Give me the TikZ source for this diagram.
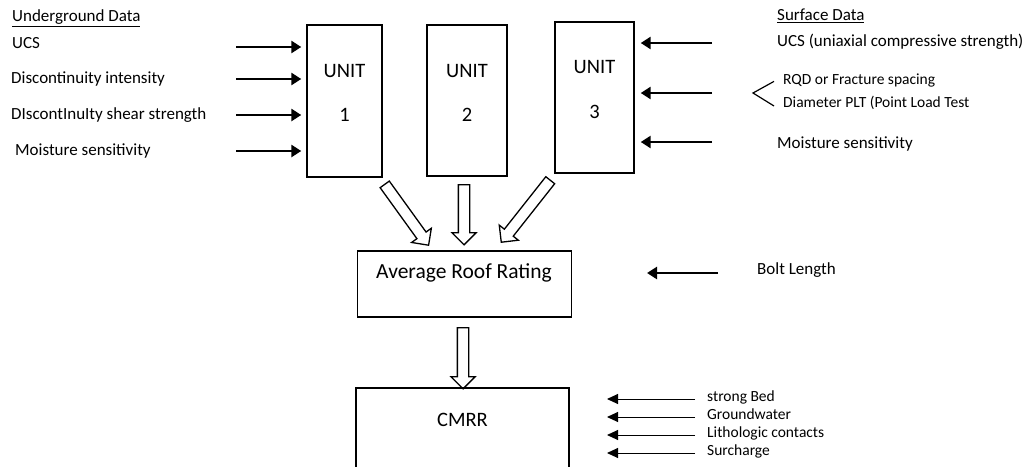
\documentclass[tikz,border=0pt]{standalone}
\usepackage{fontspec}
\setmainfont{Carlito}
\usetikzlibrary{arrows.meta,positioning,shapes.arrows}
\tikzset{
  unitbox/.style={draw, line width=1.4pt, inner sep=0pt},
  ratebox/.style={draw, line width=1.4pt, inner sep=0pt, minimum width=214pt},
  bigtext/.style={inner sep=0pt, font=\fontsize{20.5}{24}\selectfont},
  lbl/.style={anchor=mid west, inner sep=0pt, font=\fontsize{17}{20}\selectfont},
  smalllbl/.style={lbl, font=\fontsize{15.5}{18}\selectfont},
  thickarrow/.style={line width=2.6pt, -{Triangle[length=10pt, width=12pt]}},
  thinarrow/.style={line width=1pt, -{Triangle[length=11pt, width=10pt]}},
  hollow/.style={single arrow, draw, line width=1.3pt, inner sep=5pt,
    minimum width=0pt, single arrow head extend=6.5pt},
}

\begin{document}
\begin{tikzpicture}[x=1pt, y=-1pt]
  \useasboundingbox (0,0) rectangle (1032,466);

  % the three units
  \node[unitbox, minimum width=75pt, minimum height=152pt] (u1) at (344.5,101) {};
  \node[unitbox, minimum width=80pt, minimum height=151pt] (u2) at (467,100.5) {};
  \node[unitbox, minimum width=79pt, minimum height=151pt] (u3) at (594.5,97.5) {};
  \node[bigtext] at (344.5,71) {UNIT};
  \node[bigtext] at (344.5,115) {1};
  \node[bigtext] at (467,71) {UNIT};
  \node[bigtext] at (467,115) {2};
  \node[bigtext] at (594.5,67) {UNIT};
  \node[bigtext] at (594.5,112) {3};

  % ratings
  \node[ratebox, minimum height=66pt] (arr) at (464.5,284) {};
  \node[bigtext, font=\fontsize{21.5}{25}\selectfont] (arrtext) at (464,273) {Average Roof Rating};
  \node[ratebox, minimum width=213pt, minimum height=100pt] (cmrr) at (462.5,438) {};
  \node[bigtext] (cmrrtext) at (462.5,420) {CMRR};

  % underground data
  \node[lbl] (ugd) at (12,19) {\underline{Underground Data}};
  \node[lbl] (ucs) at (12,46) {UCS};
  \node[lbl] (dint) at (11,81) {Discontinuity intensity};
  \node[lbl] (dshear) at (11,117) {DIscontInuIty shear strength};
  \node[lbl] (moist) at (15,153) {Moisture sensitivity};
  \foreach \y/\n in {47/a, 79/b, 115/c, 151/d} {
    \coordinate (in\n) at (236,\y);
    \draw[thickarrow, shorten >=5pt] (in\n) -- (in\n -| u1.west);
  }

  % surface data
  \node[lbl] (sfd) at (777,18) {\underline{Surface Data}};
  \node[lbl] (ucs3) at (777,44) {UCS (uniaxial compressive strength)};
  \node[smalllbl] (rqd) at (783,82) {RQD or Fracture spacing};
  \node[smalllbl] (plt) at (783,105) {Diameter PLT (Point Load Test};
  \node[lbl] (moist3) at (777,146) {Moisture sensitivity};
  \draw[line width=1.2pt] (rqd.west) ++(-9,1) coordinate (brtop)
    -- (753,93) coordinate (brtip) -- (774,106) coordinate (brbot);
  \foreach \y/\n in {43/a, 93/b, 142/c} {
    \coordinate (out\n) at (712,\y);
    \draw[thickarrow, shorten >=6pt] (out\n) -- (out\n -| u3.east);
  }

  % units into the average rating
  \node[hollow, minimum height=75pt, rotate=-54.2] (h1) at (405,212.5) {};
  \node[hollow, minimum height=60pt, rotate=-90] (h2) at (464,212) {};
  \node[hollow, minimum height=79pt, rotate=-128.3] (h3) at (527.5,209) {};
  \node[hollow, minimum height=61pt, rotate=-90] (h4) at (463,355.5) {};

  % bolt length
  \coordinate (boltstart) at (718,273);
  \coordinate (boltend) at (647,273);
  \draw[thickarrow] (boltstart) -- (boltend);
  \node[lbl] (bolt) at (757,272) {Bolt Length};

  % cmrr adjustments
  \foreach \y/\t [count=\i] in {399/strong Bed, 417/Groundwater, 435/Lithologic contacts, 453/Surcharge} {
    \coordinate (adjs\i) at (695,\y);
    \coordinate (adje\i) at (607,\y);
    \draw[thinarrow] (adjs\i) -- (adje\i);
    \node[smalllbl] (adj\i) at (707,\y) {\t};
  }
\end{tikzpicture}
\end{document}
